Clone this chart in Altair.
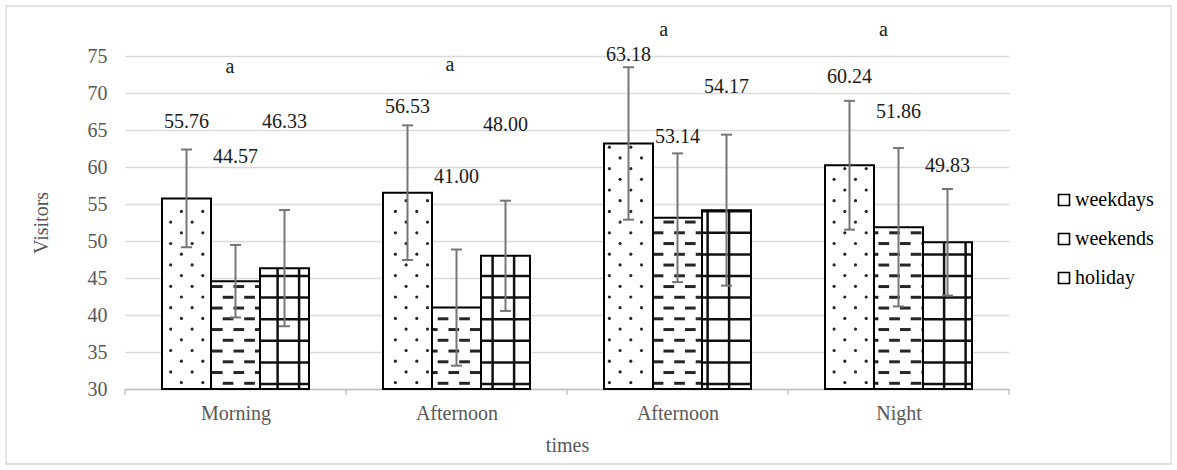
import json
import altair as alt
import pandas as pd

# ---------------- data ----------------
times = ["Morning", "Afternoon", "Afternoon", "Night"]
series = ["weekdays", "weekends", "holiday"]
weekdays = [55.76, 56.53, 63.18, 60.24]
weekends = [44.57, 41.00, 53.14, 51.86]
holiday = [46.33, 48.00, 54.17, 49.83]
err_weekdays = [6.6, 9.1, 10.3, 8.7]
err_weekends = [4.9, 7.85, 8.7, 10.7]
err_holiday = [7.85, 7.45, 10.2, 7.2]
# where each data label sits (value units)
label_y_weekdays = [66.1, 68.1, 75.1, 72.2]
label_y_weekends = [61.35, 58.6, 64.05, 67.5]
label_y_holiday = [66.1, 65.7, 70.85, 60.1]
letters = ["a", "a", "a", "a"]
letter_y = [73.5, 73.8, 78.5, 78.5]
letter_dx = [-0.025, -0.03, -0.063, -0.068]
y_ticks = [30, 35, 40, 45, 50, 55, 60, 65, 70, 75]

# ---------------- layout / style constants ----------------
W, H = 884, 333
LEFT, TOP = 125, 56
YMIN, YMAX = 30, 75
UX = W / len(times)          # px per x unit
UY = H / (YMAX - YMIN)       # px per y unit
BAR_W = 49 / UX
CAP = 5.5 / UX
FONT = "Liberation Serif"

values = [weekdays, weekends, holiday]
errs = [err_weekdays, err_weekends, err_holiday]
labys = [label_y_weekdays, label_y_weekends, label_y_holiday]

rows = []
for i, t in enumerate(times):
    for j, s in enumerate(series):
        c = i + 0.5 + (j - 1) * BAR_W
        v = values[j][i]
        e = errs[j][i]
        rows.append(dict(time=t, series=s, xc=c, xl=c - BAR_W / 2, xr=c + BAR_W / 2,
                         value=v, base=YMIN, lo=v - e, hi=v + e,
                         cl=c - CAP, cr=c + CAP, label=f"{v:.2f}", label_y=labys[j][i]))
df = pd.DataFrame(rows)

# ---------------- fill textures (derived from bar geometry) ----------------
def to_x(px_abs):
    return (px_abs - LEFT) / UX

def to_y(px_from_bottom):
    return YMIN + px_from_bottom / UY

dots, hlines, vlines = [], [], []
for r in rows:
    lpx = LEFT + r["xl"] * UX
    rpx = LEFT + r["xr"] * UX
    tpx = (r["value"] - YMIN) * UY
    if r["series"] == "weekdays":
        s = 10.7
        for k in range(0, 110):
            xa = 10.2 + k * s
            if not (lpx + 2.5 < xa < rpx - 2.5):
                continue
            for m in range(0, 40):
                yb = 6.4 + m * s
                if yb > tpx - 2.5:
                    break
                if (k + m) % 2 == 0:
                    dots.append(dict(x=to_x(xa), y=to_y(yb)))
    elif r["series"] == "weekends":
        s = 10.75
        per = 21.5
        for m in range(0, 40):
            yb = 5.7 + m * s
            if yb > tpx - 2.5:
                break
            off = 7.7 + (m % 2) * 10.75
            for k in range(-1, 60):
                x0 = off + k * per
                x1 = x0 + 10.7
                a, b = max(x0, lpx), min(x1, rpx)
                if b - a > 1:
                    hlines.append(dict(x=to_x(a), x2=to_x(b), y=to_y(yb), kind="dash"))
    else:
        per = 21.6
        for m in range(0, 30):
            yb = 5.0 + m * per
            if yb > tpx - 1:
                break
            hlines.append(dict(x=r["xl"], x2=r["xr"], y=to_y(yb), kind="grid"))
        for k in range(0, 60):
            xa = 19.6 + k * 21.5
            if lpx + 1 < xa < rpx - 1:
                vlines.append(dict(x=to_x(xa), y=YMIN, y2=r["value"]))

dots_df = pd.DataFrame(dots)
h_df = pd.DataFrame(hlines)
v_df = pd.DataFrame(vlines)

letter_df = pd.DataFrame(dict(
    x=[i + 0.5 + d for i, d in enumerate(letter_dx)], y=letter_y, text=letters))
bounds_df = pd.DataFrame(dict(x=list(range(len(times) + 1))))
frame_df = pd.DataFrame(dict(k=[0]))

label_expr = "%s[floor(datum.value)]" % json.dumps(times)

xs = alt.Scale(domain=[0, len(times)], nice=False, zero=False)
ys = alt.Scale(domain=[YMIN, YMAX], nice=False, zero=False)

x_axis = alt.Axis(values=[i + 0.5 for i in range(len(times))], labelExpr=label_expr,
                  title="times", grid=False, ticks=False, domain=True,
                  domainColor="#bfbfbf", domainWidth=1.3,
                  labelFont=FONT, labelFontSize=20, labelColor="#595959", labelPadding=14,
                  titleFont=FONT, titleFontSize=20, titleColor="#595959",
                  titleFontWeight="normal", titlePadding=12)
y_axis = alt.Axis(values=y_ticks, title="Visitors", grid=True, gridColor="#d9d9d9",
                  gridWidth=1.3, ticks=False, domain=False, labelOverlap=False,
                  labelFont=FONT, labelFontSize=20, labelColor="#595959", labelPadding=18,
                  titleFont=FONT, titleFontSize=20, titleColor="#595959",
                  titleFontWeight="normal", titlePadding=36)

XN = lambda f: alt.X(f, scale=xs, axis=x_axis)
YN = lambda f: alt.Y(f, scale=ys, axis=y_axis)

base = alt.Chart(df)

frame = alt.Chart(frame_df).mark_rect(filled=False, stroke="#d9d9d9", strokeWidth=1.3).encode(
    x=alt.value(6 - LEFT), x2=alt.value(1171 - LEFT),
    y=alt.value(6 - TOP), y2=alt.value(464 - TOP))

bars = base.mark_bar(stroke=None, strokeWidth=0).encode(
    x=XN("xl:Q"),
    x2="xr:Q",
    y=YN("value:Q"),
    y2="base:Q",
    fill=alt.Fill("series:N", scale=alt.Scale(domain=series, range=["#ffffff"] * 3),
                  legend=alt.Legend(title=None, orient="none", legendX=929, legendY=134,
                                    symbolType="square", symbolSize=121,
                                    symbolStrokeColor="#000000", symbolStrokeWidth=1.6,
                                    symbolFillColor="#ffffff",
                                    labelFont=FONT, labelFontSize=20, labelColor="#000000",
                                    rowPadding=19, labelOffset=1, padding=0)),
)

dot_layer = alt.Chart(dots_df).mark_circle(size=10, color="#262626", opacity=1).encode(
    x=XN("x:Q"), y=YN("y:Q"))

dash_layer = alt.Chart(h_df).transform_filter("datum.kind == 'dash'").mark_rule(
    color="#262626", strokeWidth=3).encode(
    x=XN("x:Q"), x2="x2:Q", y=YN("y:Q"))

grid_h = alt.Chart(h_df).transform_filter("datum.kind == 'grid'").mark_rule(
    color="#111111", strokeWidth=2.5).encode(
    x=XN("x:Q"), x2="x2:Q", y=YN("y:Q"))

grid_v = alt.Chart(v_df).mark_rule(color="#111111", strokeWidth=2.5).encode(
    x=XN("x:Q"), y=YN("y:Q"), y2="y2:Q")

outline = base.mark_bar(fillOpacity=0, stroke="#000000", strokeWidth=2).encode(
    x=XN("xl:Q"), x2="xr:Q", y=YN("value:Q"), y2="base:Q")

err_v = base.mark_rule(color="#767676", strokeWidth=2).encode(
    x=XN("xc:Q"), y=YN("lo:Q"), y2="hi:Q")
cap_hi = base.mark_rule(color="#767676", strokeWidth=2).encode(
    x=XN("cl:Q"), x2="cr:Q", y=YN("hi:Q"))
cap_lo = base.mark_rule(color="#767676", strokeWidth=2).encode(
    x=XN("cl:Q"), x2="cr:Q", y=YN("lo:Q"))

ticks = alt.Chart(bounds_df).mark_rule(color="#bfbfbf", strokeWidth=1.3).encode(
    x=XN("x:Q"), y=alt.value(H), y2=alt.value(H + 6))

labels = base.mark_text(font=FONT, fontSize=20, color="#1a1a1a").encode(
    x=XN("xc:Q"), y=YN("label_y:Q"), text="label:N")

letter_layer = alt.Chart(letter_df).mark_text(font=FONT, fontSize=20, color="#1a1a1a").encode(
    x=XN("x:Q"), y=YN("y:Q"), text="text:N")

chart = alt.layer(
    frame, bars, dot_layer, dash_layer, grid_h, grid_v, outline,
    err_v, cap_hi, cap_lo, ticks, labels, letter_layer
).properties(
    width=W, height=H,
    autosize=alt.AutoSizeParams(type="none"),
    padding={"left": LEFT, "top": TOP, "right": 1177 - LEFT - W, "bottom": 470 - TOP - H},
).configure(background="#ffffff", font=FONT).configure_view(stroke=None).configure_axis(
    labelFont=FONT, titleFont=FONT).configure_legend(labelFont=FONT).configure_text(font=FONT)

chart.save("out.html", embed_options={"renderer": "svg", "actions": False})
